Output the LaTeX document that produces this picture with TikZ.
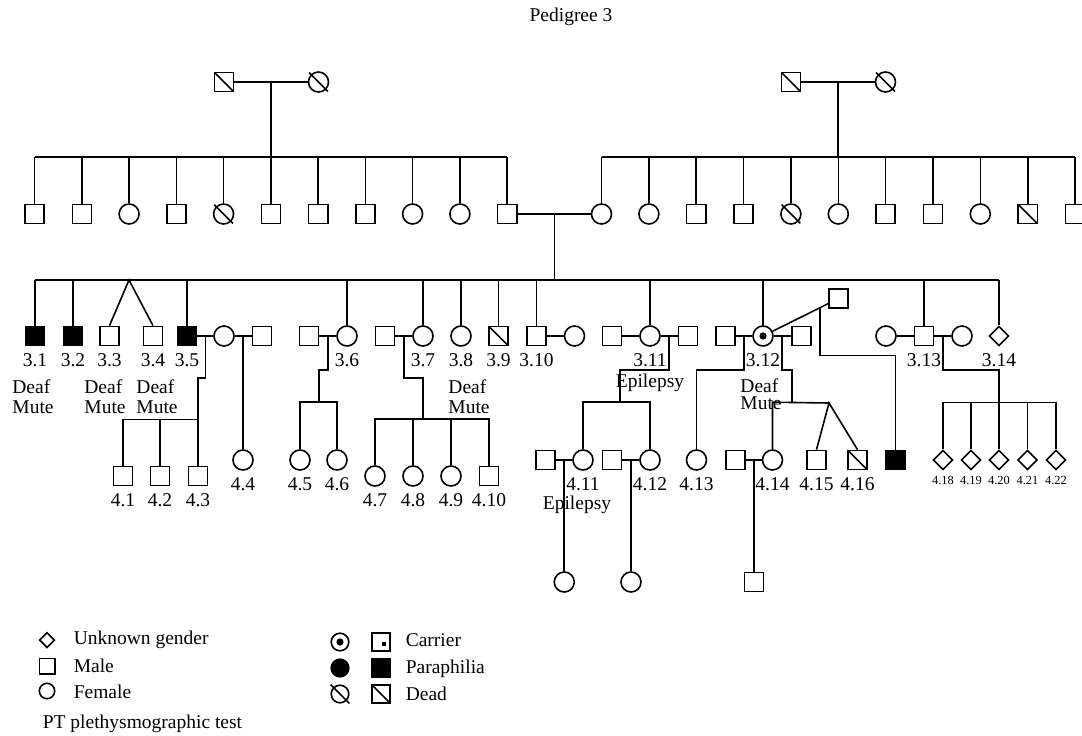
\documentclass[tikz,border=0pt]{standalone}
\usepackage{fontspec}
\setmainfont{Liberation Serif}
\usepackage{tikz}
\usetikzlibrary{shapes.geometric,calc}
\tikzset{
  font={\fontsize{9.75pt}{10pt}\selectfont},
  male/.style={draw,rectangle,minimum size=9.6pt},
  female/.style={draw,circle,minimum size=10pt},
  unknown/.style={draw,diamond,minimum size=9.8pt},
  dead/.style={append after command={([shift={(-4.7pt,4.7pt)}]\tikzlastnode.center) edge ([shift={(4.7pt,-4.7pt)}]\tikzlastnode.center)}},
  affected/.style={fill=black},
  carrier/.style={path picture={\fill (path picture bounding box.center) circle (1.8pt);}},
  keysmall/.style={minimum size=7.7pt},
  keybig/.style={minimum size=8.8pt},
  note/.style={align=left},
  smalllbl/.style={font={\fontsize{6.2pt}{7pt}\selectfont}},
  smallabel/.style={label={[smalllbl,label distance=2.6pt]below:#1}}}

\begin{document}
\begin{tikzpicture}[x=0.5pt,y=-0.5pt,line width=0.8pt,label distance=3pt]
\tikzstyle{every node}+=[inner sep=0pt]
\useasboundingbox (0,0) rectangle (1082,735);
\node (title) at (571,16.5) {Pedigree 3};
\node[male,dead] (p1) at (224,82) {};
\node[female,dead] (p2) at (318.5,82) {};
\node[male,dead] (q1) at (791,82) {};
\node[female,dead] (q2) at (885.5,82) {};
\draw (p1) -- (p2);
\draw (q1) -- (q2);
\coordinate (pj) at ($(p1)!0.5!(p2)$);
\coordinate (qj) at ($(q1)!0.5!(q2)$);
\coordinate (ls) at (271,157);
\coordinate (rs) at (838,157);
\draw (pj) -- (pj |- ls);
\draw (qj) -- (qj |- rs);
\node[male] (l1) at (34.6,214) {};
\node[male] (l2) at (81.9,214) {};
\node[female] (l3) at (129.1,214) {};
\node[male] (l4) at (176.4,214) {};
\node[female,dead] (l5) at (223.6,214) {};
\node[male] (l6) at (270.9,214) {};
\node[male] (l7) at (318.1,214) {};
\node[male] (l8) at (365.4,214) {};
\node[female] (l9) at (412.6,214) {};
\node[female] (l10) at (459.9,214) {};
\node[male] (l11) at (507.1,214) {};
\node[female] (r1) at (601.5,214) {};
\node[female] (r2) at (648.9,214) {};
\node[male] (r3) at (696.2,214) {};
\node[male] (r4) at (743.6,214) {};
\node[female,dead] (r5) at (790.9,214) {};
\node[female] (r6) at (838.3,214) {};
\node[male] (r7) at (885.6,214) {};
\node[male] (r8) at (932.9,214) {};
\node[female] (r9) at (980.3,214) {};
\node[male,dead] (r10) at (1027.7,214) {};
\node[male] (r11) at (1075,214) {};
\draw (l1.north |- ls) -- (l11.north |- ls);
\draw (r1.north |- rs) -- (r11.north |- rs);
\draw (l1.north) -- (l1.north |- ls) (l2.north) -- (l2.north |- ls) (l3.north) -- (l3.north |- ls)
  (l4.north) -- (l4.north |- ls) (l5.north) -- (l5.north |- ls) (l6.north) -- (l6.north |- ls)
  (l7.north) -- (l7.north |- ls) (l8.north) -- (l8.north |- ls) (l9.north) -- (l9.north |- ls)
  (l10.north) -- (l10.north |- ls) (l11.north) -- (l11.north |- ls);
\draw (r1.north) -- (r1.north |- rs) (r2.north) -- (r2.north |- rs) (r3.north) -- (r3.north |- rs)
  (r4.north) -- (r4.north |- rs) (r5.north) -- (r5.north |- rs) (r6.north) -- (r6.north |- rs)
  (r7.north) -- (r7.north |- rs) (r8.north) -- (r8.north |- rs) (r9.north) -- (r9.north |- rs)
  (r10.north) -- (r10.north |- rs) (r11.north) -- (r11.north |- rs);
\draw (l11) -- (r1);
\coordinate (mj) at ($(l11)!0.5!(r1)$);
\coordinate (gs) at (555,280);
\draw (mj) -- (mj |- gs);
\node[male,affected,label=below:3.1] (c1) at (35,336) {};
\node[male,affected,label=below:3.2] (c2) at (73,336) {};
\node[male,label=below:3.3] (c3) at (109.5,336) {};
\node[male,label=below:3.4] (c4) at (153,336) {};
\node[male,affected,label=below:3.5] (c5) at (187,336) {};
\node[female] (w5) at (224,336) {};
\node[male] (h5) at (262,336) {};
\node[male] (h6) at (309,336) {};
\node[female,label=below:3.6] (c6) at (347,336) {};
\node[male] (h7) at (385,336) {};
\node[female,label=below:3.7] (c7) at (423,336) {};
\node[female,label=below:3.8] (c8) at (461,336) {};
\node[male,dead,label=below:3.9] (c9) at (498.5,336) {};
\node[male,label=below:3.10] (c10) at (536.5,336) {};
\node[female] (w10) at (574.5,336) {};
\node[male] (h11a) at (612,336) {};
\node[female,label=below:3.11] (c11) at (650,336) {};
\node[male] (h11b) at (688,336) {};
\node[male] (h12a) at (725.5,336) {};
\node[female,carrier,label=below:3.12] (c12) at (763,336) {};
\node[male] (h12b) at (801.5,336) {};
\node[male] (h12c) at (838.5,298.5) {};
\node[female] (w13a) at (886,336) {};
\node[male,label=below:3.13] (c13) at (924,336) {};
\node[female] (w13b) at (962,336) {};
\node[unknown,label=below:3.14] (c14) at (999,336) {};
\draw (c1.north |- gs) -- (c14.north |- gs);
\draw (c1.north) -- (c1.north |- gs) (c2.north) -- (c2.north |- gs) (c5.north) -- (c5.north |- gs)
  (c6.north) -- (c6.north |- gs) (c7.north) -- (c7.north |- gs) (c8.north) -- (c8.north |- gs)
  (c9.north) -- (c9.north |- gs) (c10.north) -- (c10.north |- gs) (c11.north) -- (c11.north |- gs)
  (c12.north) -- (c12.north |- gs) (c13.north) -- (c13.north |- gs) (c14.north) -- (c14.north |- gs);
\coordinate (tw) at (129,280);
\draw (c3.north) -- (tw) -- (c4.north);
\node[note] (n31) at (33,397) {Deaf\\Mute};
\node[note] (n33) at (105,397) {Deaf\\Mute};
\node[note] (n34) at (157,397) {Deaf\\Mute};
\node[note] (n38) at (469,397) {Deaf\\Mute};
\node[note] (n312) at (761,394) {Deaf\\[-1.5pt]Mute};
\node (n311) at (650,383) {Epilepsy};
\node[male,label=below:4.1] (d1) at (123,476) {};
\node[male,label=below:4.2] (d2) at (160,476) {};
\node[male,label=below:4.3] (d3) at (198,476) {};
\node[female,label=below:4.4] (d4) at (243,460) {};
\node[female,label=below:4.5] (d5) at (300,460) {};
\node[female,label=below:4.6] (d6) at (337,460) {};
\node[female,label=below:4.7] (d7) at (375,476) {};
\node[female,label=below:4.8] (d8) at (413,476) {};
\node[female,label=below:4.9] (d9) at (451,476) {};
\node[male,label=below:4.10] (d10) at (489,476) {};
\draw (c5) -- (w5) -- (h5);
\coordinate (j5) at ($(c5)!0.5!(w5)$);
\draw (j5) -- ++(0,42) -| (d3.north);
\draw (d1.north) -- ++(0,-46) -| (d3.north);
\draw (d2.north) -- ++(0,-46);
\coordinate (j5b) at ($(w5)!0.5!(h5)$);
\draw (j5b) -- (d4.north);
\draw (h6) -- (c6);
\coordinate (j6) at ($(h6)!0.5!(c6)$);
\draw (j6) -- ++(0,34) -- ++(-9,0) -- ++(0,33);
\draw (d5.north) -- ++(0,-47) -| (d6.north);
\draw (h7) -- (c7);
\coordinate (j7) at ($(h7)!0.5!(c7)$);
\draw (j7) -- ++(0,42) -- ++(19,0) -- ++(0,42);
\draw (d7.north) -- ++(0,-46) -| (d10.north);
\draw (d8.north) -- ++(0,-46) (d9.north) -- ++(0,-46);
\draw (c10) -- (w10);
\node[male] (e11) at (545.5,460) {};
\node[female,label=below:4.11] (d11) at (583,460) {};
\node[male] (e12) at (612,460) {};
\node[female,label=below:4.12] (d12) at (650,460) {};
\node[female,label=below:4.13] (d13) at (696.5,460) {};
\node[male] (e14) at (735.5,460) {};
\node[female,label=below:4.14] (d14) at (772.5,460) {};
\node[male,label=below:4.15] (d15) at (816.5,460) {};
\node[male,dead,label=below:4.16] (d16) at (857.5,460) {};
\node[male,affected] (e16) at (895.5,460) {};
\node (n411) at (577,505) {Epilepsy};
\draw (h11a) -- (c11) -- (h11b);
\coordinate (j11) at ($(c11)!0.5!(h11b)$);
\draw (j11) -- ++(0,34) -- ++(-49,0) -- ++(0,33);
\draw (d11.north) -- ++(0,-47) -| (d12.north);
\node[female] (f11) at (564.25,582) {};
\node[female] (f12) at (631,582) {};
\node[male] (f14) at (754,582) {};
\draw (e11) -- (d11);
\coordinate (k11) at ($(e11)!0.5!(d11)$);
\draw (k11) -- (f11.north);
\draw (e12) -- (d12);
\coordinate (k12) at ($(e12)!0.5!(d12)$);
\draw (k12) -- (f12.north);
\draw (e14) -- (d14);
\coordinate (k14) at ($(e14)!0.5!(d14)$);
\draw (k14) -- (f14.north);
\draw (h12a) -- (c12) -- (h12b);
\coordinate (j12a) at ($(h12a)!0.5!(c12)$);
\draw (j12a) -- ++(0,34) -| (d13.north);
\coordinate (j12b) at ($(c12)!0.5!(h12b)$);
\draw (j12b) -- ++(0,34) -- ++(10,0) -- ++(0,33);
\coordinate (tw12) at (829,403);
\draw (d14.north) -- ++(0,-47) -- (tw12);
\draw (d15.north) -- (tw12) -- (d16.north);
\draw (h12c) -- (c12);
\coordinate (m12) at ($(h12c)!0.245!(c12)$);
\draw (m12) -- ++(0,48) -| (e16.north);
\node[unknown,smallabel=4.18] (d18) at (943,460) {};
\node[unknown,smallabel=4.19] (d19) at (971,460) {};
\node[unknown,smallabel=4.20] (d20) at (999,460) {};
\node[unknown,smallabel=4.21] (d21) at (1027.5,460) {};
\node[unknown,smallabel=4.22] (d22) at (1056,460) {};
\draw (w13a) -- (c13) -- (w13b);
\coordinate (j13) at ($(c13)!0.5!(w13b)$);
\draw (j13) -- ++(0,34) -| (d20.north);
\draw (d18.north) -- ++(0,-47) -| (d22.north);
\draw (d19.north) -- ++(0,-47) (d21.north) -- ++(0,-47);
\node[unknown,keysmall] (k1) at (47,640) {};
\node[anchor=west] (t1) at (73,640) {Unknown gender};
\node[male,keysmall] (k2) at (47,666) {};
\node[anchor=west] (t2) at (73,665.5) {Male};
\node[female,keysmall] (k3) at (47,691) {};
\node[anchor=west] (t3) at (73,691.5) {Female};
\node[anchor=west] (t4) at (42,724) {PT plethysmographic test};
\node[female,carrier,keybig] (k4) at (340,642) {};
\node[male,keybig,path picture={\fill ([shift={(0.7pt,-2pt)}]path picture bounding box.center) rectangle ++(2pt,2pt);}] (k5) at (381,642) {};
\node[anchor=west] (t5) at (405,640) {Carrier};
\node[female,affected,keybig] (k6) at (340,668) {};
\node[male,affected,keybig] (k7) at (381,668) {};
\node[anchor=west] (t6) at (405,669) {Paraphilia};
\node[female,dead,keybig] (k8) at (340,694) {};
\node[male,dead,keybig] (k9) at (381,694) {};
\node[anchor=west] (t7) at (405,693.5) {Dead};
\end{tikzpicture}
\end{document}
